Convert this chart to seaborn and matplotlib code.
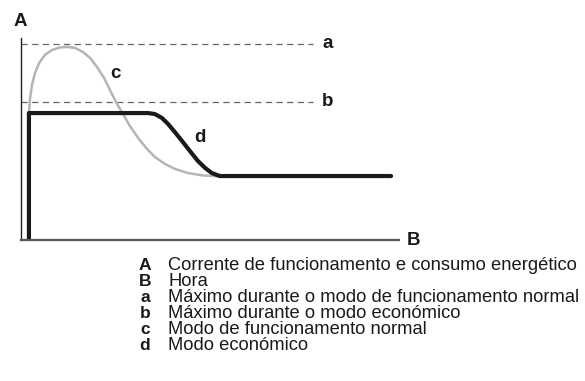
import matplotlib
matplotlib.use("Agg")
import matplotlib.pyplot as plt
import seaborn as sns

# current over time (time 0-100, current 0-100)
eco_time = [2.1, 2.1, 33.6, 35.4, 37.3, 38.9, 40.7, 42.6, 44.7, 46.8, 48.7, 50.5, 52.6, 97.9]
eco_current = [0, 64.1, 64.1, 63.6, 61.6, 58.6, 54.5, 50.0, 44.9, 39.9, 36.4, 33.8, 32.3, 32.3]

normal_time = [2.1, 2.4, 2.9, 3.7, 4.8, 6.3, 8.2, 10.3, 12.2, 14.3, 16.4, 18.3, 20.1,
               22.0, 23.8, 25.4, 27.0, 28.8, 31.0, 33.1, 35.4, 38.1, 40.7, 44.2, 48.1, 52.6]
normal_current = [64.1, 71.7, 78.3, 84.3, 89.4, 93.4, 96.0, 97.2, 97.5, 97.0, 94.9, 91.9, 87.4,
                  81.8, 74.7, 68.7, 63.6, 57.6, 51.5, 46.5, 41.9, 38.4, 35.9, 33.8, 32.6, 32.1]

max_normal = 99.0
max_eco = 69.7
limit_end = 77.2

legend_keys = ["A", "B", "a", "b", "c", "d"]
legend_texts = [
    "Corrente de funcionamento e consumo energético",
    "Hora",
    "Máximo durante o modo de funcionamento normal",
    "Máximo durante o modo económico",
    "Modo de funcionamento normal",
    "Modo económico",
]

sns.set_style("white")
plt.rcParams["font.family"] = ["Liberation Sans", "DejaVu Sans"]

W, H = 585, 381
fig = plt.figure(figsize=(W / 100, H / 100), dpi=100)
ax = fig.add_axes([21 / W, (H - 240) / H, 378 / W, 202 / H])

ax.hlines([max_normal, max_eco], 0, limit_end, colors="#666666",
          linestyles=(0, (5, 3.5)), linewidth=0.9)

sns.lineplot(x=normal_time, y=normal_current, ax=ax, color="#b5b5b5",
             linewidth=1.8, estimator=None, sort=False)
sns.lineplot(x=eco_time, y=eco_current, ax=ax, color="#1a1a1a",
             linewidth=3.0, estimator=None, sort=False)

ax.set_xlim(0, 100)
ax.set_ylim(0, 102)
ax.set_xticks([])
ax.set_yticks([])
for side in ["top", "right"]:
    ax.spines[side].set_visible(False)
ax.spines["left"].set_color("#222222")
ax.spines["left"].set_linewidth(1.0)
ax.spines["bottom"].set_color("#555555")
ax.spines["bottom"].set_linewidth(1.6)

bold = dict(fontweight="bold", color="#1a1a1a", fontsize=13.5)
ax.text(limit_end + 2.5, max_normal, "a", va="center", ha="left", **bold)
ax.text(limit_end + 2.5, max_eco, "b", va="center", ha="left", **bold)
ax.text(25, 84, "c", va="center", ha="center", **bold)
ax.text(47.4, 52, "d", va="center", ha="center", **bold)

fig.text(20 / W, 1 - 22 / H, "A", ha="center", va="center", **bold)
fig.text(413 / W, 1 - 241 / H, "B", ha="center", va="center", **bold)

for i, (key, txt) in enumerate(zip(legend_keys, legend_texts)):
    y = 1 - (265 + i * 16.2) / H
    fig.text(145 / W, y, key, ha="center", va="center", fontweight="bold",
             fontsize=12.5, color="#1a1a1a")
    fig.text(168 / W, y, txt, ha="left", va="center", fontsize=13.2, color="#1a1a1a")

fig.savefig("out.png", dpi=100)
